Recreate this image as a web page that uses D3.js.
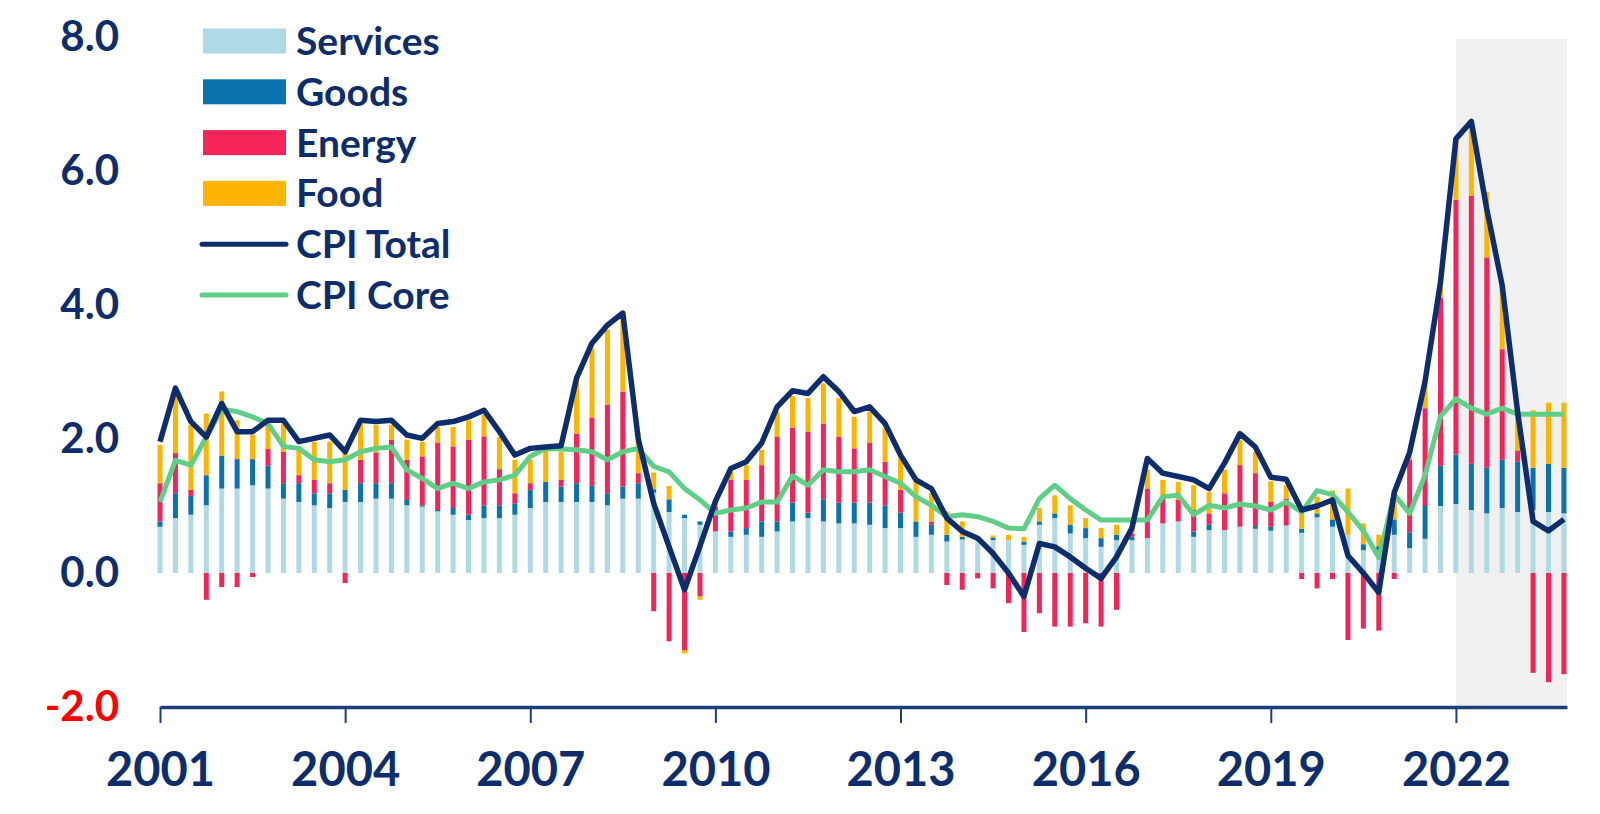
<!DOCTYPE html>
<html lang="en">
<head>
<meta charset="utf-8">
<script src="https://cdn.jsdelivr.net/npm/d3@7/dist/d3.min.js"></script>
<style>
  body { margin: 0; background: #fff; }
  text { font-family: Lato, "Open Sans", sans-serif; font-weight: bold; }
</style>
</head>
<body>
<svg id="chart" width="1600" height="814"></svg>
<script>
// quarterly contributions, 2001Q1 .. 2023Q4
var startYear = 2001;
var services = [0.69,0.82,0.87,1.01,1.26,1.26,1.31,1.26,1.11,1.06,1.01,0.97,1.06,1.06,1.11,1.11,
  1.01,0.99,0.92,0.87,0.79,0.82,0.82,0.87,0.97,1.06,1.06,1.06,1.06,1.01,1.11,1.11,
  1.20,0.91,0.82,0.72,0.62,0.54,0.57,0.54,0.62,0.77,0.82,0.77,0.74,0.74,0.72,0.67,
  0.67,0.54,0.57,0.47,0.50,0.49,0.49,0.49,0.42,0.72,0.82,0.59,0.52,0.39,0.49,0.49,
  0.52,0.74,0.77,0.54,0.64,0.64,0.69,0.66,0.63,0.71,0.60,0.83,0.69,0.57,0.34,0.34,
  0.57,0.37,0.51,1.00,1.03,0.94,0.89,0.97,0.91,0.94,0.91,0.89];
var goods = [0.08,0.37,0.28,0.45,0.49,0.44,0.39,0.34,0.23,0.28,0.18,0.22,0.18,0.28,0.23,0.23,
  0.08,0.02,0.02,0.10,0.08,0.19,0.19,0.17,0.27,0.30,0.23,0.28,0.24,0.18,0.18,0.23,
  0.05,0.19,0.05,0.05,0.00,0.08,0.10,0.23,0.15,0.28,0.08,0.33,0.31,0.31,0.33,0.34,
  0.23,0.23,0.15,0.10,0.04,0.00,0.04,0.00,0.05,0.05,0.07,0.13,0.15,0.13,0.08,0.05,
  0.00,0.00,0.00,0.08,0.08,0.00,0.00,0.04,0.06,0.00,0.06,0.06,0.11,0.00,0.09,0.06,
  0.23,0.23,0.49,0.60,0.74,0.69,0.68,0.72,0.75,0.63,0.72,0.68];
var energy = [0.57,0.60,0.09,-0.40,-0.21,-0.21,-0.06,0.25,0.47,0.12,0.20,0.15,-0.15,0.35,0.46,0.65,
  0.60,0.73,1.00,0.92,1.12,1.03,0.54,0.15,0.10,0.00,0.10,0.74,1.02,1.32,1.42,0.15,
  -0.57,-1.02,-1.15,-0.35,0.37,0.77,0.72,0.84,1.26,1.12,1.21,1.13,0.98,0.81,0.89,0.65,
  0.34,0.00,0.05,-0.18,-0.25,-0.08,-0.23,-0.45,-0.88,-0.60,-0.80,-0.80,-0.75,-0.80,-0.55,0.05,
  0.74,0.40,0.32,0.32,0.17,0.55,0.92,0.79,0.37,0.40,-0.09,-0.23,-0.09,-1.00,-0.83,-0.86,
  -0.09,1.09,1.46,2.51,3.80,4.00,3.14,1.65,0.17,-1.49,-1.63,-1.51];
var food = [0.57,0.87,0.97,0.92,0.96,0.58,0.36,0.43,0.42,0.43,0.57,0.62,0.55,0.54,0.41,0.22,
  0.30,0.22,0.24,0.29,0.29,0.32,0.48,0.50,0.35,0.50,0.42,0.80,1.03,1.12,1.14,0.60,
  0.25,0.20,-0.05,-0.05,0.07,0.12,0.22,0.23,0.38,0.47,0.50,0.60,0.58,0.47,0.47,0.50,
  0.47,0.59,0.42,0.35,0.23,0.05,0.03,0.08,0.07,0.20,0.27,0.29,0.15,0.15,0.15,0.08,
  0.28,0.25,0.27,0.37,0.32,0.35,0.38,0.32,0.31,0.20,0.25,0.25,0.43,0.69,0.31,0.17,
  0.35,0.05,0.37,0.17,0.91,1.11,0.98,0.97,0.60,0.86,0.91,0.97];
var cpiTotal = [1.96,2.76,2.26,2.03,2.53,2.11,2.11,2.28,2.28,1.96,2.01,2.06,1.81,2.28,2.26,2.28,
  2.06,2.01,2.23,2.26,2.33,2.43,2.11,1.76,1.86,1.88,1.90,2.91,3.43,3.70,3.88,2.00,
  1.04,0.39,-0.25,0.40,1.07,1.56,1.66,1.94,2.48,2.72,2.68,2.93,2.71,2.41,2.48,2.23,
  1.76,1.39,1.26,0.82,0.62,0.52,0.29,0.00,-0.35,0.44,0.39,0.24,0.07,-0.08,0.24,0.67,
  1.71,1.49,1.44,1.39,1.26,1.64,2.08,1.88,1.43,1.40,0.94,1.00,1.09,0.26,0.00,-0.29,
  1.20,1.80,2.86,4.34,6.48,6.74,5.43,4.29,2.40,0.77,0.63,0.80];
var cpiCore = [1.06,1.68,1.61,2.03,2.44,2.41,2.33,2.23,1.89,1.86,1.69,1.66,1.69,1.81,1.86,1.88,
  1.54,1.41,1.26,1.34,1.26,1.36,1.39,1.46,1.74,1.86,1.85,1.84,1.81,1.69,1.81,1.86,
  1.59,1.51,1.26,1.09,0.89,0.94,0.97,1.06,1.06,1.45,1.31,1.54,1.51,1.51,1.54,1.44,
  1.34,1.14,1.01,0.84,0.87,0.84,0.77,0.67,0.66,1.11,1.31,1.11,0.94,0.79,0.79,0.79,
  0.79,1.14,1.16,0.87,1.01,0.97,1.03,1.00,0.94,1.06,0.91,1.23,1.17,0.91,0.63,0.23,
  1.17,0.89,1.46,2.34,2.60,2.46,2.37,2.46,2.37,2.37,2.37,2.37];
var yTicks = [-2, 0, 2, 4, 6, 8];
var xTicks = [2001, 2004, 2007, 2010, 2013, 2016, 2019, 2022];
var forecastFrom = 2022;

var keys = ["Services", "Goods", "Energy", "Food"];
var colors = { Services: "#afd9e5", Goods: "#0a72ae", Energy: "#f4245a", Food: "#fcb400" };
var navy = "#0d2d6c";
var green = "#5fce86";

var rows = services.map(function(d, i) {
  return { t: startYear + i / 4, Services: d, Goods: goods[i], Energy: energy[i], Food: food[i] };
});

var svg = d3.select("#chart");

var x = d3.scaleLinear().domain([2001, 2023.8]).range([160, 1567]);
var y = d3.scaleLinear().domain([-2, 8]).range([707, 37]);

// forecast shading
svg.append("rect")
  .attr("x", x(forecastFrom))
  .attr("y", 39)
  .attr("width", x(2023.8) - x(forecastFrom))
  .attr("height", y(-2) - 39)
  .attr("fill", "#f0f0f0");

var series = d3.stack().keys(keys).offset(d3.stackOffsetDiverging)(rows);

var barW = 5;
svg.append("g").selectAll("g")
  .data(series)
  .enter().append("g")
  .attr("fill", function(d) { return colors[d.key]; })
  .selectAll("rect")
  .data(function(d) { return d; })
  .enter().append("rect")
  .attr("x", function(d) { return x(d.data.t) - barW / 2; })
  .attr("y", function(d) { return y(Math.max(d[0], d[1])); })
  .attr("width", barW)
  .attr("height", function(d) { return Math.abs(y(d[0]) - y(d[1])); });

var line = d3.line()
  .x(function(d, i) { return x(startYear + i / 4); })
  .y(function(d) { return y(d); });

svg.append("path")
  .datum(cpiCore)
  .attr("d", line)
  .attr("fill", "none")
  .attr("stroke", green)
  .attr("stroke-width", 5)
  .attr("stroke-linejoin", "round");

svg.append("path")
  .datum(cpiTotal)
  .attr("d", line)
  .attr("fill", "none")
  .attr("stroke", navy)
  .attr("stroke-width", 5.5)
  .attr("stroke-linejoin", "round");

// x axis
var xAxis = svg.append("g")
  .attr("transform", "translate(0," + y(-2) + ")")
  .call(d3.axisBottom(x).tickValues(xTicks).tickFormat(d3.format("d")).tickSize(16).tickSizeOuter(0).tickPadding(30));
xAxis.select(".domain").attr("stroke", "#1c3f7c").attr("stroke-width", 3.5);
xAxis.selectAll(".tick line").attr("stroke", "#1c3f7c").attr("stroke-width", 2);
xAxis.selectAll(".tick text")
  .attr("fill", navy)
  .style("font-size", "47px")
  .attr("dy", "0.71em");

// y labels (plain hyphen for the negative label, as in the source)
var yAxis = svg.append("g")
  .attr("transform", "translate(119,0)")
  .call(d3.axisLeft(y).tickValues(yTicks).tickFormat(function(d) { return d.toFixed(1); }).tickSize(0).tickPadding(0));
yAxis.select(".domain").remove();
yAxis.selectAll(".tick text")
  .attr("fill", function(d) { return d < 0 ? "#ff0000" : navy; })
  .style("font-size", "42px");

// legend
var legendItems = [
  { name: "Services", type: "box", color: colors.Services },
  { name: "Goods", type: "box", color: colors.Goods },
  { name: "Energy", type: "box", color: colors.Energy },
  { name: "Food", type: "box", color: colors.Food },
  { name: "CPI Total", type: "line", color: navy },
  { name: "CPI Core", type: "line", color: green }
];
var legend = svg.append("g");
var item = legend.selectAll("g")
  .data(legendItems)
  .enter().append("g")
  .attr("transform", function(d, i) { return "translate(0," + (41 + i * 50.8) + ")"; });

item.filter(function(d) { return d.type == "box"; })
  .append("rect")
  .attr("x", 203).attr("y", -12.5)
  .attr("width", 83).attr("height", 25)
  .attr("fill", function(d) { return d.color; });

item.filter(function(d) { return d.type == "line"; })
  .append("line")
  .attr("x1", 202).attr("x2", 286)
  .attr("stroke", function(d) { return d.color; })
  .attr("stroke-width", 5)
  .attr("stroke-linecap", "round");

item.append("text")
  .attr("x", 296)
  .attr("dy", "0.36em")
  .attr("fill", navy)
  .style("font-size", "39px")
  .text(function(d) { return d.name; });
</script>
</body>
</html>
